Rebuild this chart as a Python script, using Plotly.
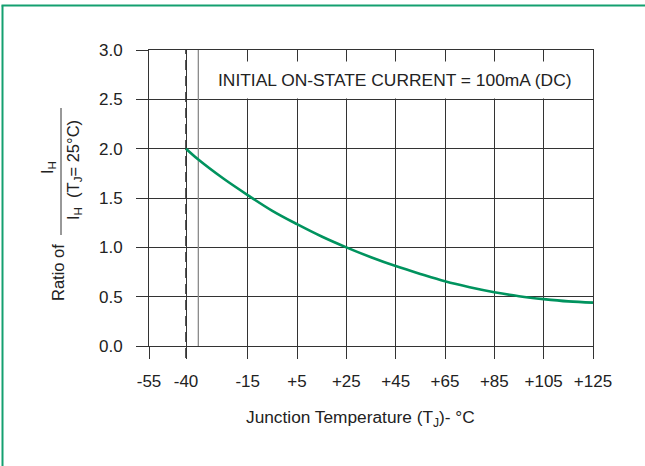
import plotly.graph_objects as go

# Data
temps = [-40, -35, -25, -15, -5, 5, 15, 25, 35, 45, 55, 65, 75, 85, 95, 105, 115, 125]
ratio = [2.00, 1.89, 1.70, 1.53, 1.37, 1.235, 1.11, 1.00, 0.90, 0.81, 0.73, 0.655, 0.595, 0.545, 0.505, 0.475, 0.452, 0.44]
x_tickvals = [-55, -40, -15, 5, 25, 45, 65, 85, 105, 125]
x_ticktext = ["-55", "-40", "-15", "+5", "+25", "+45", "+65", "+85", "+105", "+125"]
y_tickvals = [0.0, 0.5, 1.0, 1.5, 2.0, 2.5, 3.0]
y_ticktext = ["0.0", "0.5", "1.0", "1.5", "2.0", "2.5", "3.0"]

FONT = "Liberation Sans, Arial, Helvetica, sans-serif"
TXT = "#222222"
GRID = "#333333"
GREEN = "#00935e"

W, H = 645, 466
L, R, T, B = 149, 593, 50, 346


def px(xp):
    return (xp - L) / (R - L)


def py(yp):
    return (B - yp) / (B - T)


fig = go.Figure()
fig.add_trace(go.Scatter(x=temps, y=ratio, mode="lines",
                         line=dict(color=GREEN, width=2.6, shape="spline", smoothing=1.0),
                         hoverinfo="skip", showlegend=False))

fig.update_layout(
    width=W, height=H, autosize=False,
    margin=dict(l=L, r=W - R, t=T, b=H - B, pad=0),
    paper_bgcolor="white", plot_bgcolor="white",
    font=dict(family=FONT, size=17, color=TXT),
    showlegend=False,
    xaxis=dict(range=[-55, 125], tickmode="array", tickvals=x_tickvals, ticktext=x_ticktext,
               ticks="outside", ticklen=12, tickcolor=GRID, tickwidth=1,
               showgrid=True, gridcolor=GRID, gridwidth=1, zeroline=False,
               showline=True, mirror=True, linecolor=GRID, linewidth=1,
               ticklabelstandoff=8, tickfont=dict(size=17, color=TXT)),
    yaxis=dict(range=[0, 3], tickmode="array", tickvals=y_tickvals, ticktext=y_ticktext,
               ticks="outside", ticklen=12, tickcolor=GRID, tickwidth=1,
               showgrid=True, gridcolor=GRID, gridwidth=1, zeroline=False,
               showline=True, mirror=True, linecolor=GRID, linewidth=1,
               ticklabelstandoff=10, tickfont=dict(size=17, color=TXT)),
)

shapes = []
# cover the -40 gridline, then draw it dashed (extends into tick area)
shapes.append(dict(type="line", xref="x", yref="paper", x0=-40, x1=-40, y0=-12 / (B - T), y1=1,
                   line=dict(color="white", width=3), layer="between"))
shapes.append(dict(type="line", xref="x", yref="paper", x0=-40, x1=-40, y0=-12 / (B - T), y1=1,
                   line=dict(color="#111111", width=1.4, dash="10px,6px"), layer="between"))
# lighter line at -35
shapes.append(dict(type="line", xref="x", yref="y", x0=-35, x1=-35, y0=0, y1=3,
                   line=dict(color="#8a8a8a", width=1.3), layer="between"))
# fraction bar of y title
shapes.append(dict(type="line", xref="paper", yref="paper", x0=px(61), x1=px(61), y0=py(108), y1=py(235),
                   line=dict(color="#333333", width=1)))
# green frame (left and top)
shapes.append(dict(type="line", xref="paper", yref="paper", x0=px(2.5), x1=px(2.5), y0=py(467), y1=py(5.5),
                   line=dict(color="#14a070", width=2)))
shapes.append(dict(type="line", xref="paper", yref="paper", x0=px(1.5), x1=px(646), y0=py(5.5), y1=py(5.5),
                   line=dict(color="#14a070", width=2)))
fig.update_layout(shapes=shapes)

ann = []
ann.append(dict(text="INITIAL ON-STATE CURRENT = 100mA (DC)", xref="paper", yref="paper",
                x=px(395), y=py(80), xanchor="center", yanchor="middle", showarrow=False,
                bgcolor="white", borderpad=8, font=dict(size=17.4, color=TXT)))
ann.append(dict(text="Ratio of", xref="paper", yref="paper", x=px(58), y=py(273), textangle=-90,
                xanchor="center", yanchor="middle", showarrow=False, font=dict(size=16.5, color=TXT)))
ann.append(dict(text="I<sub>H</sub>", xref="paper", yref="paper", x=px(48), y=py(168), textangle=-90,
                xanchor="center", yanchor="middle", showarrow=False, font=dict(size=16.5, color=TXT)))
ann.append(dict(text="I<sub>H</sub>  (T<sub>J</sub>= 25°C)", xref="paper", yref="paper", x=px(74), y=py(170),
                textangle=-90, xanchor="center", yanchor="middle", showarrow=False,
                font=dict(size=16.5, color=TXT)))
ann.append(dict(text="Junction Temperature (T<sub>J</sub>)- °C", xref="paper", yref="paper",
                x=px(360), y=py(418), xanchor="center", yanchor="middle", showarrow=False,
                font=dict(size=17.3, color=TXT)))
fig.update_layout(annotations=ann)

fig.write_html("out.html", config={"displayModeBar": False},
               post_script="document.body.style.margin='0';document.body.style.padding='0';")
